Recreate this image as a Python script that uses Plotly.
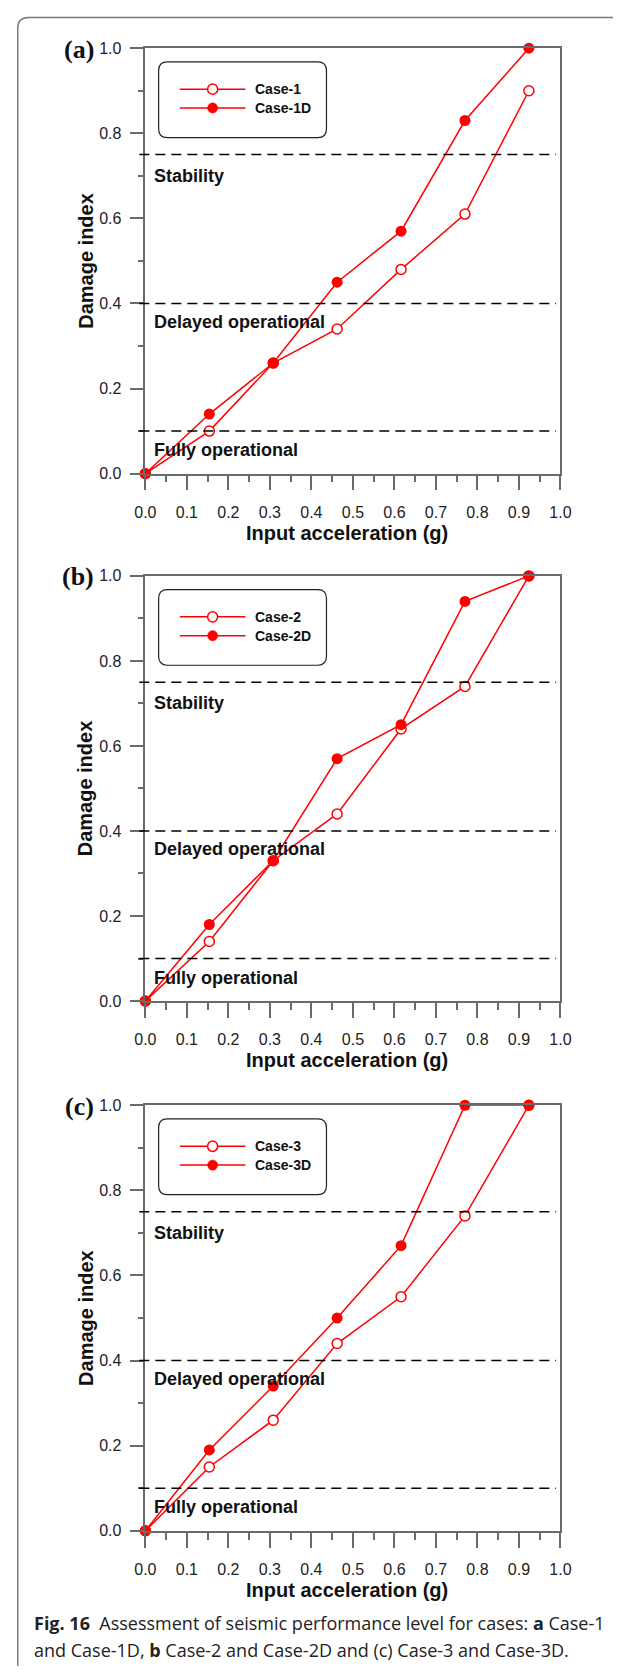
import plotly.graph_objects as go

W, H = 624, 1675

# ---------------- data ----------------
accel = [0.0, 0.154, 0.308, 0.462, 0.616, 0.770, 0.924]

case1 = [0.0, 0.10, 0.26, 0.34, 0.48, 0.61, 0.90]
case1d = [0.0, 0.14, 0.26, 0.45, 0.57, 0.83, 1.00]
case2 = [0.0, 0.14, 0.33, 0.44, 0.64, 0.74, 1.00]
case2d = [0.0, 0.18, 0.33, 0.57, 0.65, 0.94, 1.00]
case3 = [0.0, 0.15, 0.26, 0.44, 0.55, 0.74, 1.00]
case3d = [0.0, 0.19, 0.34, 0.50, 0.67, 1.00, 1.00]

panel_labels = ["(a)", "(b)", "(c)"]
series_names = [("Case-1", "Case-1D"), ("Case-2", "Case-2D"), ("Case-3", "Case-3D")]
series_vals = [(case1, case1d), (case2, case2d), (case3, case3d)]

levels = [0.75, 0.40, 0.10]
level_names = ["Stability", "Delayed operational", "Fully operational"]
level_label_y = [0.70, 0.357, 0.055]

x_title = "Input acceleration (g)"
y_title = "Damage index"
caption1 = "<b>Fig. 16</b>  Assessment of seismic performance level for cases: <b>a</b> Case-1"
caption2 = "and Case-1D, <b>b</b> Case-2 and Case-2D and (c) Case-3 and Case-3D."

# ---------------- layout helpers ----------------
def px(x):
    return x / W

def py(y):
    return 1 - y / H

RED = "#ff0000"
AX = "#6a6a6a"
X_LEFT, X_RIGHT = 139.3, 569.5
panel_tops = [40.6, 573.7, 1108.5]
panel_bottoms = [470.4, 1003.2, 1538.4]

fig = go.Figure()
shapes = []
annotations = []

for i in range(3):
    ax = "" if i == 0 else str(i + 1)
    xref, yref = "x" + ax, "y" + ax
    top, bot = panel_tops[i], panel_bottoms[i]
    open_vals, fill_vals = series_vals[i]
    n_open, n_fill = series_names[i]

    fig.add_trace(go.Scatter(
        x=accel, y=open_vals, mode="lines+markers", name=n_open,
        xaxis=xref, yaxis=yref, cliponaxis=False, showlegend=False,
        line=dict(color=RED, width=1.5),
        marker=dict(symbol="circle", size=10, color="white",
                    line=dict(color=RED, width=1.5)),
    ))
    fig.add_trace(go.Scatter(
        x=accel, y=fill_vals, mode="lines+markers", name=n_fill,
        xaxis=xref, yaxis=yref, cliponaxis=False, showlegend=False,
        line=dict(color=RED, width=1.5),
        marker=dict(symbol="circle", size=11, color=RED,
                    line=dict(color=RED, width=0)),
    ))

    dom_y = [py(bot), py(top)]
    fig.layout["xaxis" + ax] = dict(
        domain=[px(X_LEFT), px(X_RIGHT)], range=[0, 1], anchor=yref,
        tick0=0, dtick=0.1, tickformat=".1f", ticks="outside", ticklen=15,
        tickwidth=1.5, tickcolor=AX, showline=True, linecolor=AX, linewidth=1.5,
        mirror=True, showgrid=False, zeroline=False, ticklabelstandoff=8,
        tickfont=dict(family="Liberation Sans, Arial", size=16, color="#222"),
        minor=dict(dtick=0.05, tick0=0, ticks="outside", ticklen=7, tickwidth=1.5,
                   tickcolor=AX, showgrid=False),
    )
    fig.layout["yaxis" + ax] = dict(
        domain=dom_y, range=[0, 1], anchor=xref,
        tick0=0, dtick=0.2, tickformat=".1f", ticks="outside", ticklen=14,
        tickwidth=1.5, tickcolor=AX, showline=True, linecolor=AX, linewidth=1.5,
        mirror=True, showgrid=False, zeroline=False, ticklabelstandoff=5,
        tickfont=dict(family="Liberation Sans, Arial", size=16, color="#222"),
        minor=dict(dtick=0.1, tick0=0, ticks="outside", ticklen=6, tickwidth=1.5,
                   tickcolor=AX, showgrid=False),
    )

    # performance level dashed lines and labels
    for lv, name, ly in zip(levels, level_names, level_label_y):
        shapes.append(dict(type="line", xref="paper", yref=yref,
                           x0=px(133), x1=px(565), y0=lv, y1=lv,
                           line=dict(color="black", width=1.5, dash="10px,6px")))
        annotations.append(dict(text=name, xref=xref, yref=yref, x=0.017, y=ly,
                                xanchor="left", yanchor="middle", showarrow=False,
                                font=dict(family="Liberation Sans, Arial", size=18,
                                          color="#111", weight="bold")))

    # panel label
    annotations.append(dict(text="<b>" + panel_labels[i] + "</b>", xref="paper", yref="paper",
                            x=px(88), y=py(top + 1), xanchor="right", yanchor="middle",
                            showarrow=False,
                            font=dict(family="Liberation Serif, Times New Roman", size=26,
                                      color="#111")))
    # axis titles
    annotations.append(dict(text="<b>" + x_title + "</b>", xref="paper", yref="paper",
                            x=px(348), y=py(bot + 60), xanchor="center", yanchor="middle",
                            showarrow=False,
                            font=dict(family="Liberation Sans, Arial", size=20, color="#111")))
    annotations.append(dict(text="<b>" + y_title + "</b>", xref="paper", yref="paper",
                            x=px(77.6), y=py((top + bot) / 2), xanchor="center",
                            yanchor="middle", textangle=-90, showarrow=False,
                            font=dict(family="Liberation Sans, Arial", size=20, color="#111")))

    # legend box (custom, rounded)
    bx0, bx1 = 153, 327
    by0, by1 = top + 13.8, top + 90.3
    r = 9
    path = (f"M {px(bx0 + r)},{py(by0)} L {px(bx1 - r)},{py(by0)} "
            f"Q {px(bx1)},{py(by0)} {px(bx1)},{py(by0 + r)} "
            f"L {px(bx1)},{py(by1 - r)} Q {px(bx1)},{py(by1)} {px(bx1 - r)},{py(by1)} "
            f"L {px(bx0 + r)},{py(by1)} Q {px(bx0)},{py(by1)} {px(bx0)},{py(by1 - r)} "
            f"L {px(bx0)},{py(by0 + r)} Q {px(bx0)},{py(by0)} {px(bx0 + r)},{py(by0)} Z")
    shapes.append(dict(type="path", xref="paper", yref="paper", path=path,
                       line=dict(color="#222", width=1.2), fillcolor="rgba(0,0,0,0)"))
    for k, (nm, filled) in enumerate([(n_open, False), (n_fill, True)]):
        ly_px = top + 41.4 + 19.0 * k
        shapes.append(dict(type="line", xref="paper", yref="paper",
                           x0=px(175), x1=px(243), y0=py(ly_px), y1=py(ly_px),
                           line=dict(color=RED, width=1.5)))
        rad = 5.2
        shapes.append(dict(type="circle", xref="paper", yref="paper",
                           x0=px(209 - rad), x1=px(209 + rad),
                           y0=py(ly_px + rad), y1=py(ly_px - rad),
                           fillcolor=RED if filled else "white",
                           line=dict(color=RED, width=1.5 if not filled else 0.5)))
        annotations.append(dict(text="<b>" + nm + "</b>", xref="paper", yref="paper",
                                x=px(250.5), y=py(ly_px), xanchor="left", yanchor="middle",
                                showarrow=False,
                                font=dict(family="Liberation Sans, Arial", size=14,
                                          color="#111")))

# figure border (open-bottom rounded frame)
br = 11
border = (f"M {px(7)},{py(H)} L {px(7)},{py(9.5 + br)} "
          f"Q {px(7)},{py(9.5)} {px(7 + br)},{py(9.5)} L {px(W)},{py(9.5)}")
shapes.append(dict(type="path", xref="paper", yref="paper", path=border,
                   line=dict(color="#7a7a7a", width=1.5)))

# caption
annotations.append(dict(text=caption1, xref="paper", yref="paper", x=px(22), y=py(1632),
                        xanchor="left", yanchor="middle", showarrow=False,
                        font=dict(family="Open Sans, Noto Sans", size=18, color="#222")))
annotations.append(dict(text=caption2, xref="paper", yref="paper", x=px(22), y=py(1658.7),
                        xanchor="left", yanchor="middle", showarrow=False,
                        font=dict(family="Open Sans, Noto Sans", size=18, color="#222")))

fig.update_layout(
    width=W, height=H, margin=dict(l=0, r=0, t=0, b=0),
    paper_bgcolor="white", plot_bgcolor="white",
    showlegend=False, shapes=shapes, annotations=annotations,
)

fig.write_html("out.html")
